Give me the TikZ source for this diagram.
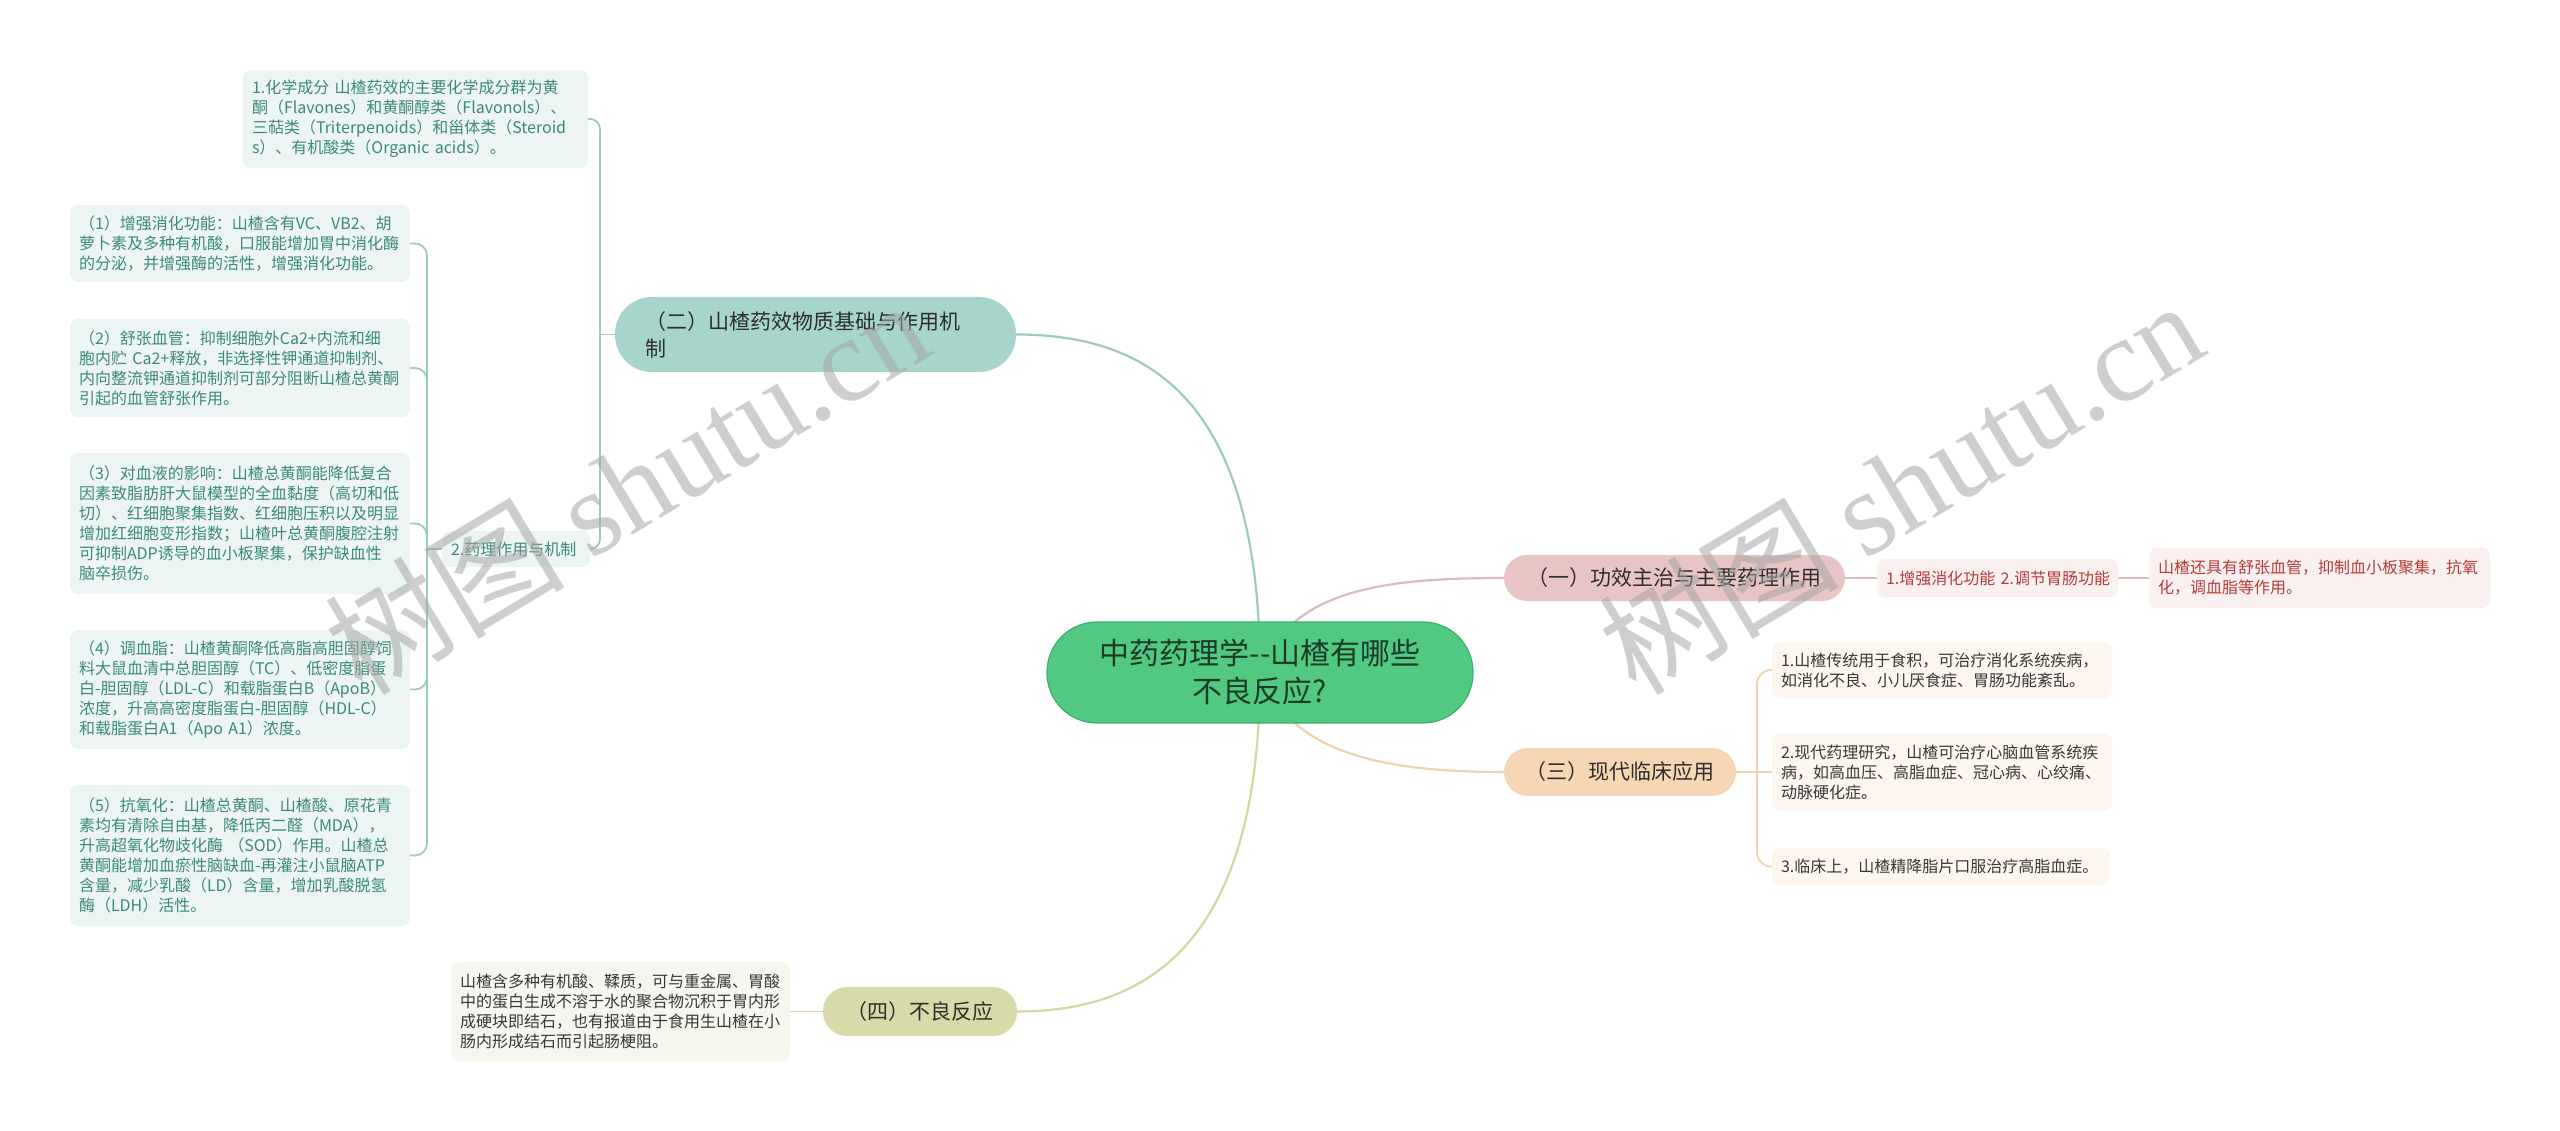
\documentclass[tikz,border=0pt]{standalone}
\usepackage{fontspec}
\setmainfont{Noto Sans CJK SC}
\newfontfamily\wmserif{Liberation Serif}
\usetikzlibrary{calc}
\definecolor{rootfill}{HTML}{52C983}
\definecolor{rootline}{HTML}{3FAE6C}
\definecolor{roottext}{HTML}{1B3A27}
\definecolor{branchtext}{HTML}{2E2E2E}
\definecolor{tealline}{HTML}{9BCBBF}
\definecolor{tealfill}{HTML}{A8D5CB}
\definecolor{tealleaf}{HTML}{ECF5F3}
\definecolor{tealtext}{HTML}{3B8A79}
\definecolor{pinkline}{HTML}{DEBABA}
\definecolor{pinkfill}{HTML}{E7C5C5}
\definecolor{pinkleaf}{HTML}{FBF0F0}
\definecolor{pinktext}{HTML}{B23D3B}
\definecolor{peachline}{HTML}{EFD2AE}
\definecolor{peachfill}{HTML}{F5D7B5}
\definecolor{peachleaf}{HTML}{FDF6EE}
\definecolor{olivline}{HTML}{D3D7A3}
\definecolor{olivfill}{HTML}{D8DBA9}
\definecolor{olivleaf}{HTML}{F6F6EF}
\definecolor{leaftext}{HTML}{383838}
\pgfdeclarelayer{paper}
\pgfdeclarelayer{bg}
\pgfsetlayers{paper,bg,main}
\tikzset{
  rootnode/.style={rectangle, rounded corners=50pt, fill=rootfill, draw=rootline, line width=1.2pt,
    minimum width=426pt, minimum height=101pt, inner sep=0pt, align=center, text=roottext,
    font=\fontsize{30}{38}\selectfont},
  branch/.style={rectangle, inner sep=0pt, text=branchtext, font=\fontsize{21}{27}\selectfont},
  leaf/.style={rectangle, rounded corners=8pt, inner xsep=9pt, inner ysep=0pt, align=left,
    font=\fontsize{16}{20}\selectfont},
  tleaf/.style={leaf, fill=tealleaf, text=tealtext},
  pleaf/.style={leaf, fill=pinkleaf, text=pinktext},
  cleaf/.style={leaf, fill=peachleaf, text=leaftext},
  oleaf/.style={leaf, fill=olivleaf, text=leaftext},
  mainlink/.style={line width=2.2pt},
  sublink/.style={line width=1.8pt},
  wm/.style={text=black!35, opacity=0.55, font=\fontsize{120}{120}\selectfont, inner sep=0pt}
}
\begin{document}
\begin{tikzpicture}[x=1pt,y=-1pt]
\begin{pgfonlayer}{paper}
\fill[white] (0,0) rectangle (2560,1131);
\end{pgfonlayer}
\useasboundingbox (0,0) rectangle (2560,1131);

% root
\node[rootnode] (root) at (1260,672.5) {中药药理学{-}{-}山楂有哪些\\不良反应?};

% branches
\node[branch, fill=tealfill, rounded corners=37pt, minimum width=401pt, minimum height=75pt,
  text width=341pt, inner xsep=30pt, align=left] (b2) at (815.5,334.5)
  {（二）山楂药效物质基础与作用机\\制};
\node[branch, fill=pinkfill, rounded corners=23pt, minimum width=341pt, minimum height=46pt] (b1)
  at (1674.5,578) {（一）功效主治与主要药理作用};
\node[branch, fill=peachfill, rounded corners=24pt, minimum width=232pt, minimum height=48pt] (b3)
  at (1620,772) {（三）现代临床应用};
\node[branch, fill=olivfill, rounded corners=24pt, minimum width=194pt, minimum height=49pt] (b4)
  at (920,1011.5) {（四）不良反应};

% (二) children
\node[tleaf, text width=327pt, minimum height=98pt] (k1) at (415.5,119)
  {1.化学成分~山楂药效的主要化学成分群为黄\\
   酮（Flavones）和黄酮醇类（Flavonols）、\\
   三萜类（Triterpenoids）和甾体类（Steroid\\
   s）、有机酸类（Organic~acids）。};
\node[tleaf, text width=130pt, minimum height=36pt] (k2) at (516,549) {2.药理作用与机制};

\node[tleaf, text width=322pt, minimum height=77pt] (l1) at (240,243.5)
  {（1）增强消化功能：山楂含有VC、VB2、胡\\
   萝卜素及多种有机酸，口服能增加胃中消化酶\\
   的分泌，并增强酶的活性，增强消化功能。};
\node[tleaf, text width=322pt, minimum height=98pt] (l2) at (240,368)
  {（2）舒张血管：抑制细胞外Ca2+内流和细\\
   胞内贮~Ca2+释放，非选择性钾通道抑制剂、\\
   内向整流钾通道抑制剂可部分阻断山楂总黄酮\\
   引起的血管舒张作用。};
\node[tleaf, text width=322pt, minimum height=141pt] (l3) at (240,523.5)
  {（3）对血液的影响：山楂总黄酮能降低复合\\
   因素致脂肪肝大鼠模型的全血黏度（高切和低\\
   切）、红细胞聚集指数、红细胞压积以及明显\\
   增加红细胞变形指数；山楂叶总黄酮腹腔注射\\
   可抑制ADP诱导的血小板聚集，保护缺血性\\
   脑卒损伤。};
\node[tleaf, text width=322pt, minimum height=119pt] (l4) at (240,689.5)
  {（4）调血脂：山楂黄酮降低高脂高胆固醇饲\\
   料大鼠血清中总胆固醇（TC）、低密度脂蛋\\
   白{-}胆固醇（LDL{-}C）和载脂蛋白B（ApoB）\\
   浓度，升高高密度脂蛋白{-}胆固醇（HDL{-}C）\\
   和载脂蛋白A1（Apo~A1）浓度。};
\node[tleaf, text width=322pt, minimum height=141pt] (l5) at (240,855.5)
  {（5）抗氧化：山楂总黄酮、山楂酸、原花青\\
   素均有清除自由基，降低丙二醛（MDA），\\
   升高超氧化物歧化酶~（SOD）作用。山楂总\\
   黄酮能增加血瘀性脑缺血{-}再灌注小鼠脑ATP\\
   含量，减少乳酸（LD）含量，增加乳酸脱氢\\
   酶（LDH）活性。};

% (一) children
\node[pleaf, text width=223pt, minimum height=38pt] (a1) at (1997.5,578)
  {1.增强消化功能~2.调节胃肠功能};
\node[pleaf, text width=323pt, minimum height=60pt] (a2) at (2319.5,578)
  {山楂还具有舒张血管，抑制血小板聚集，抗氧\\化，调血脂等作用。};

% (三) children
\node[cleaf, text width=322pt, minimum height=56pt] (c1) at (1942,670)
  {1.山楂传统用于食积，可治疗消化系统疾病，\\如消化不良、小儿厌食症、胃肠功能紊乱。};
\node[cleaf, text width=322pt, minimum height=78pt] (c2) at (1942,772)
  {2.现代药理研究，山楂可治疗心脑血管系统疾\\病，如高血压、高脂血症、冠心病、心绞痛、\\动脉硬化症。};
\node[cleaf, text width=320pt, minimum height=37pt] (c3) at (1941,866.5)
  {3.临床上，山楂精降脂片口服治疗高脂血症。};

% (四) child
\node[oleaf, text width=321pt, minimum height=99pt] (d1) at (620.5,1011.5)
  {山楂含多种有机酸、鞣质，可与重金属、胃酸\\
   中的蛋白生成不溶于水的聚合物沉积于胃内形\\
   成硬块即结石，也有报道由于食用生山楂在小\\
   肠内形成结石而引起肠梗阻。};

% junctions
\coordinate (j2) at (600,334.5);
\coordinate (j5) at (427,549);
\coordinate (j3) at (1757,772);

\begin{pgfonlayer}{bg}
  \draw[mainlink, tealline] (root.center) .. controls +(0,-272) and +(134,0) .. (b2.east);
  \draw[mainlink, olivline] (root.center) .. controls +(0,268) and +(133,0) .. (b4.east);
  \draw[mainlink, pinkline] (root.center) .. controls +(30,-82) and +(-124,0) .. (b1.west);
  \draw[mainlink, peachline] (root.center) .. controls +(30,80) and +(-124,0) .. (b3.west);

  \draw[sublink, tealline] (b2.west) -- (j2);
  \draw[sublink, tealline, rounded corners=10pt] (j2) |- (k1.east);
  \draw[sublink, tealline, rounded corners=10pt] (j2) |- (k2.east);

  \draw[sublink, tealline] (k2.west) -- (j5);
  \draw[sublink, tealline, rounded corners=12pt] (j5) |- (l1.east);
  \draw[sublink, tealline, rounded corners=12pt] (j5) |- (l2.east);
  \draw[sublink, tealline, rounded corners=12pt] (j5) |- (l3.east);
  \draw[sublink, tealline, rounded corners=12pt] (j5) |- (l4.east);
  \draw[sublink, tealline, rounded corners=12pt] (j5) |- (l5.east);

  \draw[sublink, pinkline] (b1.east) -- (a1.west);
  \draw[sublink, pinkline] (a1.east) -- (a2.west);

  \draw[sublink, peachline] (b3.east) -- (j3);
  \draw[sublink, peachline, rounded corners=14pt] (j3) |- (c1.west);
  \draw[sublink, peachline] (j3) -- (c2.west);
  \draw[sublink, peachline, rounded corners=14pt] (j3) |- (c3.west);

  \draw[sublink, olivline] (b4.west) -- (d1.east);
\end{pgfonlayer}

% watermarks
\node[wm, rotate=31, anchor=base west] (wm1) at (362,698) {树图~{\wmserif shutu.cn}};
\node[wm, rotate=31, anchor=base west] (wm2) at (1636,698) {树图~{\wmserif shutu.cn}};
\end{tikzpicture}
\end{document}
